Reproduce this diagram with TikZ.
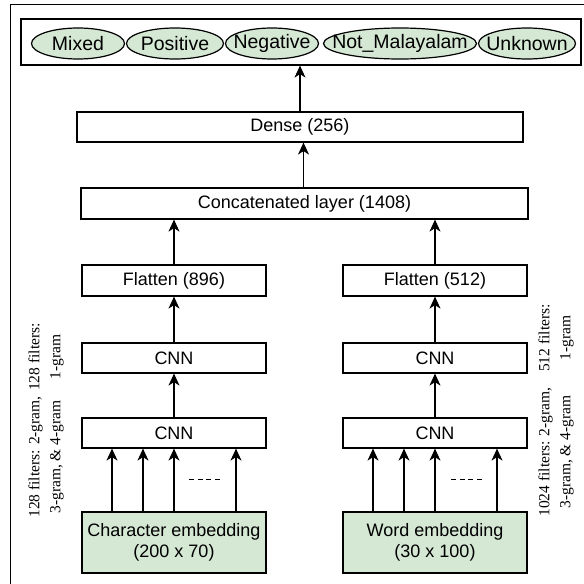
\documentclass[tikz,border=0pt]{standalone}
\usepackage{fontspec}
\setmainfont{Liberation Serif}
\setsansfont{Liberation Sans}
\usepackage{tikz}
\usetikzlibrary{arrows.meta,shapes.geometric}
\definecolor{embgreen}{HTML}{D5E8D4}

\begin{document}
\begin{tikzpicture}[x=1pt, y=-1pt,
		layer_style/.style={rectangle,draw=black,line width=1.2pt,fill=white,inner sep=0pt,
			font=\sffamily\fontsize{18}{21}\selectfont},
		emb_style/.style={layer_style,fill=embgreen,align=center,minimum width=184pt,minimum height=61pt},
		class_style/.style={ellipse,draw=black,line width=1.2pt,fill=embgreen,inner sep=0pt,minimum height=31pt,
			label={[font=\sffamily\fontsize{19.5}{21}\selectfont]center:#1}},
		note_style/.style={rotate=90,align=center,inner sep=0pt,font=\rmfamily\fontsize{15.5}{21}\selectfont},
		edge_style/.style={draw=black,line width=1.2pt,-{Stealth[length=12pt,width=11pt,inset=3.5pt]}}]
		
		\useasboundingbox (0,0) rectangle (584,584);
		\draw[line width=1.2pt] (10.5,600) |- (600,4.5);
		
		% output classes
		\node[layer_style, minimum width=560pt, minimum height=46pt] (out) at (301,42) {};
		\node[class_style=Mixed, minimum width=93pt] (mixed) at (78,43.5) {};
		\node[class_style=Positive, minimum width=97pt] (positive) at (175,43.5) {};
		\node[class_style=Negative, minimum width=93pt] (negative) at (272,43.5) {};
		\node[class_style=Not\_Malayalam, minimum width=153pt] (notmal) at (400,43.5) {};
		\node[class_style=Unknown, minimum width=97pt] (unknown) at (527,43.5) {};
		
		\node[layer_style, minimum width=446pt, minimum height=30pt] (dense) at (300,127) {Dense (256)};
		\node[layer_style, minimum width=447pt, minimum height=31pt] (concat) at (304.5,203.5) {Concatenated layer (1408)};
		
		% character branch
		\node[layer_style, minimum width=184pt, minimum height=31pt] (flatL) at (174,280.5) {Flatten (896)};
		\node[layer_style, minimum width=184pt, minimum height=30pt] (cnnL1) at (174,358) {CNN};
		\node[layer_style, minimum width=184pt, minimum height=30pt] (cnnL2) at (174,433) {CNN};
		\node[emb_style] (embL) at (174,542.5) {Character embedding\\(200 x 70)};
		
		% word branch
		\node[layer_style, minimum width=184pt, minimum height=31pt] (flatR) at (435,280.5) {Flatten (512)};
		\node[layer_style, minimum width=184pt, minimum height=30pt] (cnnR1) at (435,358) {CNN};
		\node[layer_style, minimum width=184pt, minimum height=30pt] (cnnR2) at (435,433) {CNN};
		\node[emb_style] (embR) at (435,542.5) {Word embedding\\(30 x 100)};
		
		% filter notes
		\node[note_style] (noteL1) at (46,357) {128 filters:\\1-gram};
		\node[note_style] (noteL2) at (46,457) {128 filters: 2-gram,\\3-gram, \& 4-gram};
		\node[note_style] (noteR1) at (556,338) {512 filters:\\1-gram};
		\node[note_style] (noteR2) at (556,452) {1024 filters: 2-gram,\\3-gram, \& 4-gram};
		
		\draw[edge_style]  (dense.north) -- (dense.north |- out.south);
		\draw[edge_style]  ([xshift=-1pt]concat.north) -- ([xshift=-1pt]concat.north |- dense.south);
		\draw[edge_style]  (flatL.north) -- (flatL.north |- concat.south);
		\draw[edge_style]  (flatR.north) -- (flatR.north |- concat.south);
		\draw[edge_style]  (cnnL1) edge (flatL);
		\draw[edge_style]  (cnnR1) edge (flatR);
		\draw[edge_style]  (cnnL2) edge (cnnL1);
		\draw[edge_style]  (cnnR2) edge (cnnR1);
		\foreach \dx in {-62,-31,0,62} {
			\draw[edge_style] ([xshift=\dx pt]embL.north) -- ([xshift=\dx pt]cnnL2.south);
			\draw[edge_style] ([xshift=\dx pt]embR.north) -- ([xshift=\dx pt]cnnR2.south);
		}
		\draw[line width=1pt, dash pattern=on 5pt off 3.7pt] (189,479) -- (221,479);
		\draw[line width=1pt, dash pattern=on 5pt off 3.7pt] (451,479) -- (483,479);
    
\end{tikzpicture}
\end{document}
